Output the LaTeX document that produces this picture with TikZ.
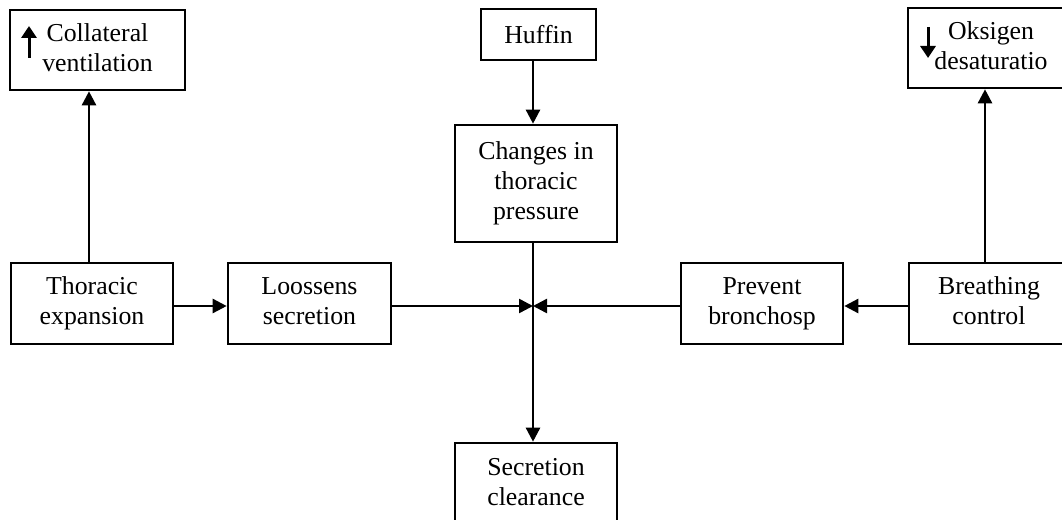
\documentclass[tikz,border=0pt]{standalone}
\usepackage{fontspec}
\setmainfont{Liberation Serif}
\usetikzlibrary{arrows.meta}
\newcommand\boxstrut{\rule[-5.5pt]{0pt}{30pt}}
\begin{document}
\begin{tikzpicture}[x=1pt,y=-1pt,
  box/.style={draw,line width=2.6pt,inner sep=0pt,align=center,
    font=\fontsize{25.8}{30}\selectfont,
    execute at begin node=\boxstrut,execute at end node=\boxstrut},
  conn/.style={line width=2.5pt,-{Triangle[length=14pt,width=14pt]}},
  glyph/.style={line width=3pt,-{Triangle[length=12pt,width=15pt]}}]
\useasboundingbox (0,0) rectangle (1062,519);
\clip (0,0) rectangle (1062,519);
\node[box,minimum width=175pt,minimum height=80pt] (coll) at (97.5,50) {Collateral\\ventilation};
\node[box,minimum width=115pt,minimum height=51pt] (huff) at (538.5,34.5) {Huffin};
\node[box,minimum width=166pt,minimum height=80pt] (oks) at (991,48) {Oksigen\\desaturatio};
\node[box,minimum width=162pt,minimum height=117pt] (chg) at (536,183.5) {Changes in\\thoracic\\pressure};
\node[box,minimum width=162pt,minimum height=81pt] (thor) at (92,303.5) {Thoracic\\expansion};
\node[box,minimum width=163pt,minimum height=81pt] (loos) at (309.5,303.5) {Loossens\\secretion};
\node[box,minimum width=162pt,minimum height=81pt] (prev) at (762,303.5) {Prevent\\bronchosp};
\node[box,minimum width=160pt,minimum height=81pt] (brea) at (989,303.5) {Breathing\\control};
\node[box,minimum width=162pt,minimum height=84pt] (sec) at (536,485) {Secretion\\clearance};
\coordinate (J) at (533,306);
\draw[conn] (thor.east |- J) -- (loos.west |- J);
\draw[conn] (loos.east |- J) -- (J);
\draw[conn] (prev.west |- J) -- (J);
\draw[conn] (brea.west |- J) -- (prev.east |- J);
\draw[conn] (J |- huff.south) -- (J |- chg.north);
\draw[conn] (J |- chg.south) -- (J |- sec.north);
\draw[conn] ([xshift=-3pt]thor.north) -- ([xshift=-3pt]thor.north |- coll.south);
\draw[conn] ([xshift=-4pt]brea.north) -- ([xshift=-4pt]brea.north |- oks.south);
\coordinate (ua1) at (29,58);
\coordinate (ua2) at (29,26);
\draw[glyph] (ua1) -- (ua2);
\coordinate (da1) at (928,27);
\coordinate (da2) at (928,58);
\draw[glyph] (da1) -- (da2);
\end{tikzpicture}
\end{document}
